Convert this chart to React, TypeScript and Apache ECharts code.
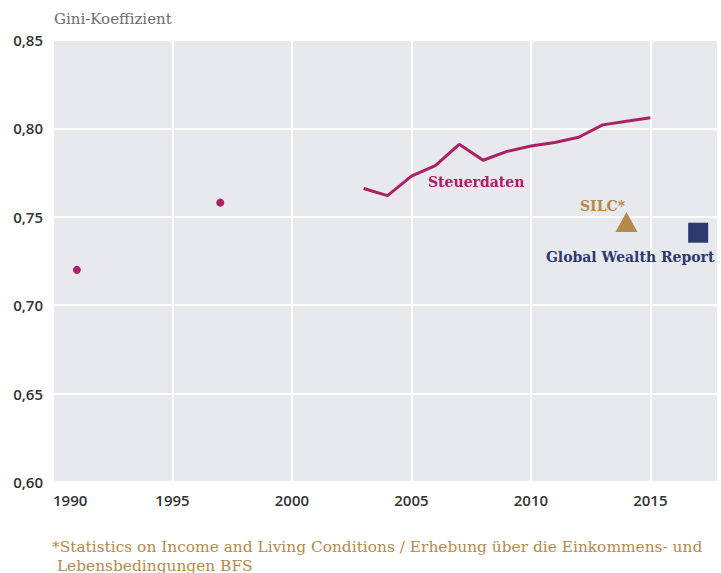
import React, { useEffect, useRef } from "react";
import * as echarts from "echarts";

const steuerYears = [2003, 2004, 2005, 2006, 2007, 2008, 2009, 2010, 2011, 2012, 2013, 2014, 2015];
const steuerValues = [0.766, 0.762, 0.773, 0.779, 0.791, 0.782, 0.787, 0.790, 0.792, 0.795, 0.802, 0.804, 0.806];
const earlyYears = [1991, 1997];
const earlyValues = [0.720, 0.758];
const silcYear = 2014;
const silcValue = 0.747;
const gwrYear = 2017;
const gwrValue = 0.741;
const yTicks = [0.6, 0.65, 0.7, 0.75, 0.8, 0.85];

const MAGENTA = "#ac2066";
const GOLD = "#b38a4c";
const NAVY = "#2c3a6f";
const SERIF = "DejaVu Serif";
const SANS = "Open Sans";

export default function App() {
  const ref = useRef<HTMLDivElement>(null);
  useEffect(() => {
    if (!ref.current) return;
    const chart = echarts.init(ref.current, null, { renderer: "svg" });
    chart.setOption({
      animation: false,
      backgroundColor: "#ffffff",
      grid: {
        left: 53,
        right: 0,
        top: 40,
        bottom: 91,
        show: true,
        backgroundColor: "#e8e9ed",
        borderWidth: 0,
      },
      xAxis: {
        type: "value",
        min: 1990,
        max: 2017.83,
        interval: 5,
        axisLine: { show: false },
        axisTick: { show: false },
        splitLine: { show: true, lineStyle: { color: "#ffffff", width: 2 } },
        axisLabel: {
          color: "#333333",
          fontFamily: SANS,
          fontSize: 15,
          fontWeight: 600,
          margin: 10,
          alignMinLabel: "left",
          formatter: (v: number) => (v > 2015 ? "" : String(v)),
        },
      },
      yAxis: {
        type: "value",
        min: yTicks[0],
        max: yTicks[yTicks.length - 1],
        interval: 0.05,
        axisLine: { show: false },
        axisTick: { show: false },
        splitLine: { show: true, lineStyle: { color: "#ffffff", width: 2 } },
        axisLabel: {
          color: "#333333",
          fontFamily: SANS,
          fontSize: 15,
          fontWeight: 600,
          margin: 10,
          formatter: (v: number) => v.toFixed(2).replace(".", ","),
        },
      },
      title: {
        text: "Gini-Koeffizient",
        left: 54,
        top: 11,
        padding: 0,
        textStyle: { fontFamily: SERIF, fontSize: 15, fontWeight: "normal", color: "#6b6b6b" },
      },
      series: [
        {
          type: "line",
          data: steuerYears.map((y, i) => [y, steuerValues[i]]),
          showSymbol: false,
          lineStyle: { color: MAGENTA, width: 3 },
          itemStyle: { color: MAGENTA },
          z: 3,
        },
        {
          type: "scatter",
          data: earlyYears.map((y, i) => [y, earlyValues[i]]),
          symbol: "circle",
          symbolSize: 8,
          itemStyle: { color: MAGENTA, opacity: 1 },
        },
        {
          type: "scatter",
          data: [[silcYear, silcValue]],
          symbol: "triangle",
          symbolSize: [22, 20],
          itemStyle: { color: GOLD, opacity: 1 },
          label: {
            show: true,
            position: "top",
            offset: [-24, 3],
            distance: 2,
            formatter: "SILC*",
            color: GOLD,
            fontFamily: SERIF,
            fontSize: 14,
            fontWeight: "bold",
          },
        },
        {
          type: "scatter",
          data: [[gwrYear, gwrValue]],
          symbol: "rect",
          symbolSize: 20,
          itemStyle: { color: NAVY, opacity: 1 },
          label: {
            show: true,
            position: "bottom",
            offset: [-68, 2],
            distance: 5,
            formatter: "Global Wealth Report",
            color: NAVY,
            fontFamily: SERIF,
            fontSize: 14,
            fontWeight: "bold",
          },
        },
      ],
      graphic: [
        {
          type: "text",
          left: 428,
          top: 175,
          style: {
            text: "Steuerdaten",
            fill: MAGENTA,
            fontFamily: SERIF,
            fontSize: 14,
            fontWeight: "bold",
          },
        },
        {
          type: "text",
          left: 52,
          top: 537,
          style: {
            text: "*Statistics on Income and Living Conditions / Erhebung über die Einkommens- und\n Lebensbedingungen BFS",
            fill: GOLD,
            fontFamily: SERIF,
            fontSize: 15.4,
            lineHeight: 19,
          },
        },
      ],
    });
    return () => chart.dispose();
  }, []);
  return <div ref={ref} style={{ width: 721, height: 573, position: "absolute", left: 0, top: 0 }} />;
}
